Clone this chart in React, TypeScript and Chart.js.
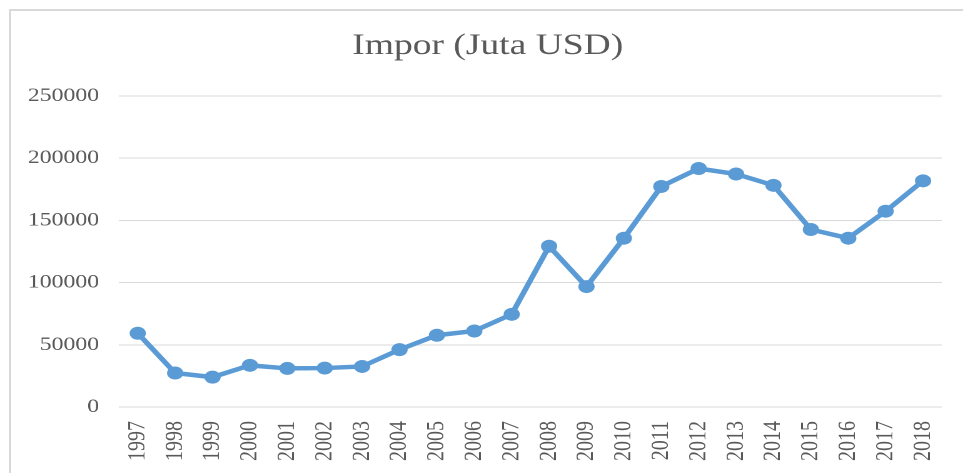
import React, { useEffect, useRef } from "react";
import { Chart, registerables } from "chart.js";

Chart.register(...registerables);

const years = [
  "1997", "1998", "1999", "2000", "2001", "2002", "2003", "2004", "2005", "2006", "2007",
  "2008", "2009", "2010", "2011", "2012", "2013", "2014", "2015", "2016", "2017", "2018",
];
const impor = [
  59300, 27300, 24000, 33500, 31000, 31300, 32600, 46100, 57700, 61100, 74500,
  129200, 96800, 135700, 177300, 191700, 187300, 178200, 142700, 135700, 157400, 181800,
];
const yMin = 0;
const yMax = 250000;
const yStep = 50000;
const titleText = "Impor (Juta USD)";

const FULL_W = 963;
const H = 473;
const W = 770;
const SX = FULL_W / W;
const TEXT = "#595959";
const FONT = "'Liberation Serif', 'Times New Roman', serif";

const titleShift = {
  id: "titleShift",
  afterLayout(chart: any) {
    if (chart.titleBlock) {
      chart.titleBlock.left = 27;
    }
  },
};

export default function App() {
  const ref = useRef<HTMLCanvasElement>(null);
  useEffect(() => {
    const chart = new Chart(ref.current!, {
      type: "line",
      data: {
        labels: years,
        datasets: [
          {
            data: impor,
            borderColor: "#5B9BD5",
            backgroundColor: "#5B9BD5",
            borderWidth: 4.5,
            pointRadius: 6.5,
            pointBackgroundColor: "#5B9BD5",
            pointBorderColor: "#5B9BD5",
            pointBorderWidth: 0,
            tension: 0,
            fill: false,
          },
        ],
      },
      plugins: [titleShift],
      options: {
        responsive: false,
        animation: false,
        devicePixelRatio: 2,
        layout: { padding: { left: 0, right: 17, top: 0, bottom: 0 } },
        plugins: {
          legend: { display: false },
          tooltip: { enabled: false },
          title: {
            display: true,
            text: titleText,
            color: TEXT,
            font: { family: FONT, size: 30, weight: "normal" },
            padding: { top: 28, bottom: 32 },
          },
        },
        scales: {
          x: {
            offset: true,
            grid: { display: false, drawTicks: false },
            border: { display: false },
            ticks: {
              autoSkip: false,
              minRotation: 90,
              maxRotation: 90,
              padding: 14,
              color: TEXT,
              font: { family: FONT, size: 20 },
            },
            afterFit: (s: any) => {
              s.height = H - 407;
              s.paddingLeft = 0;
              s.paddingRight = 0;
            },
          },
          y: {
            min: yMin,
            max: yMax,
            ticks: {
              stepSize: yStep,
              padding: 16,
              color: TEXT,
              font: { family: FONT, size: 19 },
              callback: (v: any) => String(v),
            },
            grid: { color: "#d9d9d9", lineWidth: 1, drawTicks: false },
            border: { display: false },
            afterFit: (s: any) => {
              s.width = 95.2;
            },
          },
        },
      },
    } as any);
    return () => chart.destroy();
  }, []);

  return (
    <div style={{ position: "absolute", left: 0, top: 0, width: FULL_W, height: H, overflow: "hidden", background: "#fff" }}>
      <div
        style={{
          position: "absolute",
          left: 9,
          top: 9,
          width: FULL_W - 11,
          height: H - 11,
          borderLeft: "2px solid #d9d9d9",
          borderTop: "2px solid #d9d9d9",
        }}
      />
      <div
        style={{
          position: "absolute",
          left: 0,
          top: 0,
          width: W,
          height: H,
          transform: `scaleX(${SX})`,
          transformOrigin: "0 0",
        }}
      >
        <canvas ref={ref} width={W} height={H} />
      </div>
    </div>
  );
}
